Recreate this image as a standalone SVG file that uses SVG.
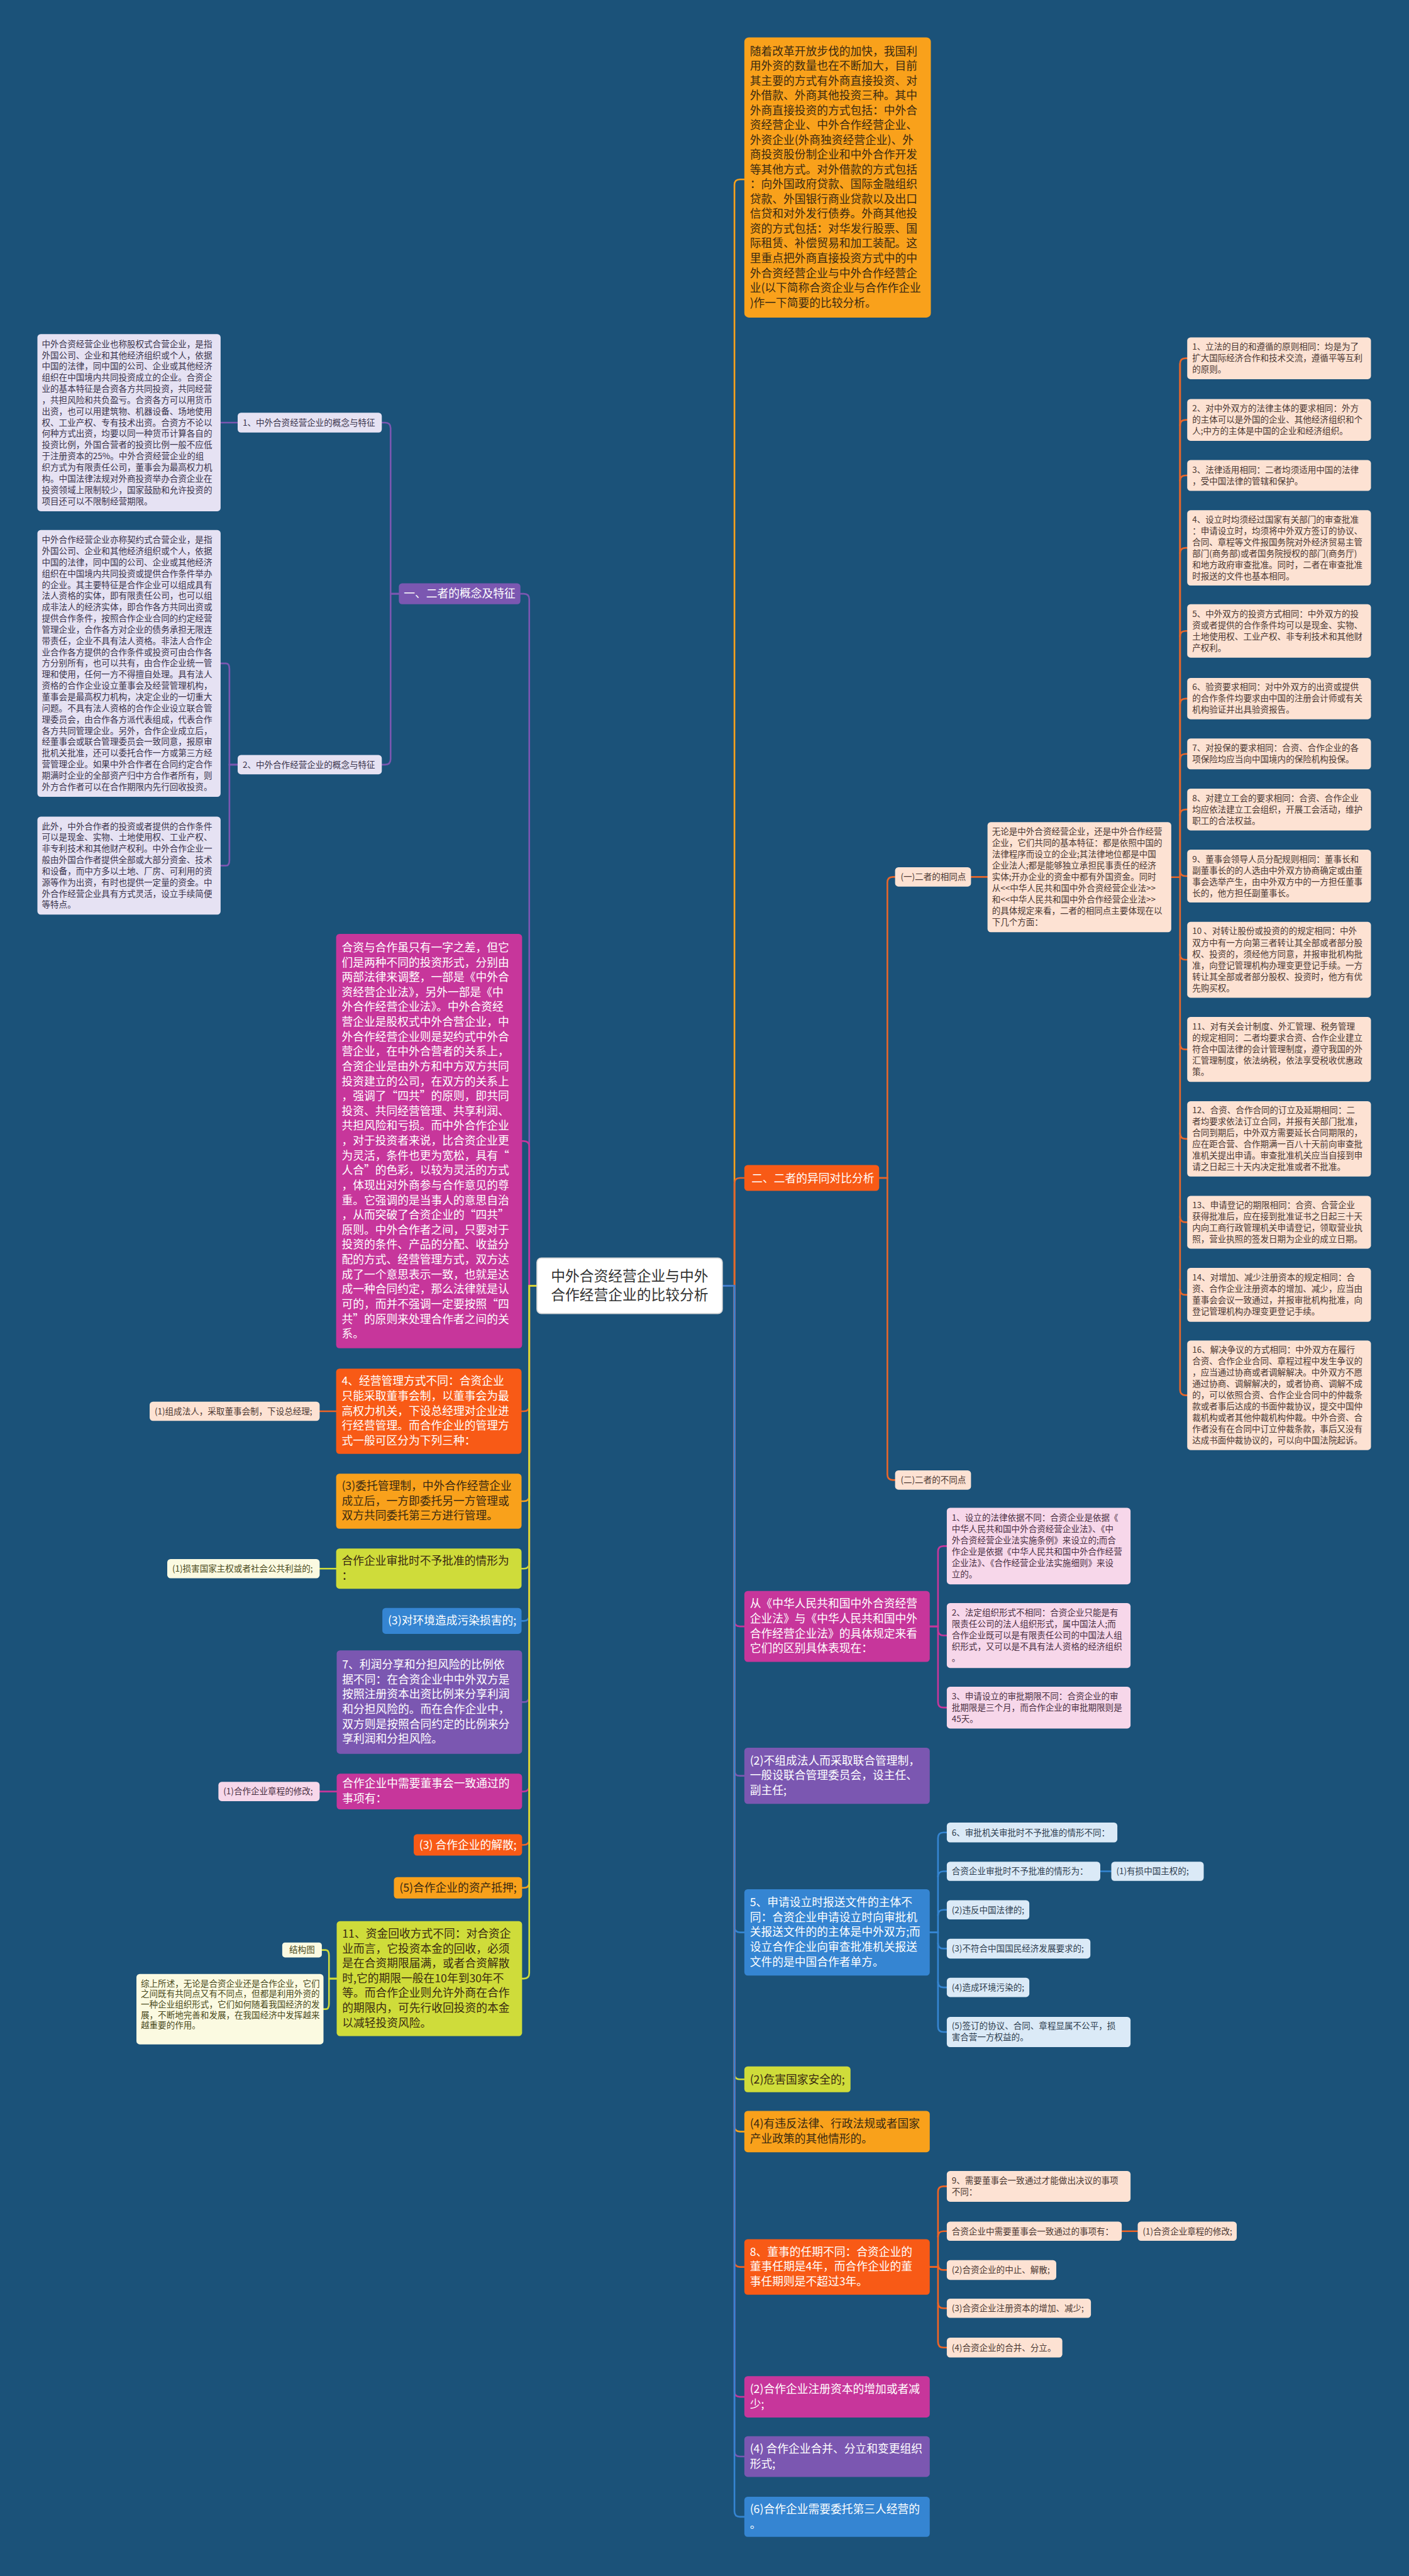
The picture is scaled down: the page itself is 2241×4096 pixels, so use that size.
<svg xmlns="http://www.w3.org/2000/svg" width="2241" height="4096" viewBox="0 0 2241 4096">
<style>
text{font-family:"Noto Sans CJK SC","Noto Sans",sans-serif}
.s{font-size:15.5px}
.l{font-size:20.3px}
.cw{fill:#ffffff}
.cd{fill:#3a2a12}
.cp{fill:#4b3832}
.cv{fill:#3a344c}
.ck{fill:#4a3042}
.cb{fill:#2e3e50}
.cy{fill:#4a4a20}
.fo{fill:#f9a11b}
.fr{fill:#f85a16}
.fm{fill:#c7369b}
.fu{fill:#7b57b1}
.fb{fill:#3585d2}
.fg{fill:#cfdc3a}
.fp{fill:#fde2d3}
.fk{fill:#f7d7ea}
.fl{fill:#dbeaf7}
.fv{fill:#e6e2f3}
.fy{fill:#fbfae1}
#conn path{fill:none;stroke-width:3;stroke-linecap:round}
.so{stroke:#f9a11b}.sr{stroke:#f06424}.sm{stroke:#c7369b}.su{stroke:#7b57b1}.sb{stroke:#3585d2}.sg{stroke:#cfdc3a}.sq{stroke:#e8662a}
</style>
<rect width="2241" height="4096" fill="#1b5279"/>
<g transform="scale(0.875)">
<g id="conn">
<path class="so" d="M1313 2336.5H1335V336Q1335 326 1345 326H1353"/>
<path class="sq" d="M1313 2336.5H1335V2150.5Q1335 2140.5 1345 2140.5H1353"/>
<path class="sm" d="M1313 2336.5H1335V2945.5Q1335 2955.5 1345 2955.5H1353"/>
<path class="su" d="M1313 2336.5H1335V3217Q1335 3227 1345 3227H1353"/>
<path class="sb" d="M1313 2336.5H1335V3501.5Q1335 3511.5 1345 3511.5H1353"/>
<path class="sg" d="M1313 2336.5H1335V3768.5Q1335 3778.5 1345 3778.5H1353"/>
<path class="so" d="M1313 2336.5H1335V3863.5Q1335 3873.5 1345 3873.5H1353"/>
<path class="sr" d="M1313 2336.5H1335V4109.5Q1335 4119.5 1345 4119.5H1353"/>
<path class="sm" d="M1313 2336.5H1335V4345.5Q1335 4355.5 1345 4355.5H1353"/>
<path class="su" d="M1313 2336.5H1335V4454Q1335 4464 1345 4464H1353"/>
<path class="sb" d="M1313 2336.5H1335V4563.5Q1335 4573.5 1345 4573.5H1353"/>
<path class="sq" d="M1598 2140.5H1613V1603.5Q1613 1593.5 1623 1593.5H1627"/>
<path class="sq" d="M1598 2140.5H1613V2679.5Q1613 2689.5 1623 2689.5H1627"/>
<path class="sq" d="M1765 1593.5H1795"/>
<path class="sq" d="M2129 1594H2145V661Q2145 651 2155 651H2158"/>
<path class="sq" d="M2145 661V2525.5Q2145 2535.5 2155 2535.5H2158"/>
<path class="sq" d="M2145 773Q2145 763 2155 763H2158"/>
<path class="sq" d="M2145 874Q2145 864 2155 864H2158"/>
<path class="sq" d="M2145 1005.5Q2145 995.5 2155 995.5H2158"/>
<path class="sq" d="M2145 1156.5Q2145 1146.5 2155 1146.5H2158"/>
<path class="sq" d="M2145 1279.5Q2145 1269.5 2155 1269.5H2158"/>
<path class="sq" d="M2145 1380Q2145 1370 2155 1370H2158"/>
<path class="sq" d="M2145 1481Q2145 1471 2155 1471H2158"/>
<path class="sq" d="M2145 1582Q2145 1592 2155 1592H2158"/>
<path class="sq" d="M2145 1734Q2145 1744 2155 1744H2158"/>
<path class="sq" d="M2145 1897Q2145 1907 2155 1907H2158"/>
<path class="sq" d="M2145 2059.5Q2145 2069.5 2155 2069.5H2158"/>
<path class="sq" d="M2145 2211Q2145 2221 2155 2221H2158"/>
<path class="sq" d="M2145 2343Q2145 2353 2155 2353H2158"/>
<path class="sm" d="M1690 2955.5H1705V2819.5Q1705 2809.5 1715 2809.5H1721"/>
<path class="sm" d="M1690 2955.5H1705V3093Q1705 3103 1715 3103H1721"/>
<path class="sm" d="M1705 2962Q1705 2972 1715 2972H1721"/>
<path class="sb" d="M1690 3511.5H1705V3340Q1705 3330 1715 3330H1721"/>
<path class="sb" d="M1690 3511.5H1705V3682.5Q1705 3692.5 1715 3692.5H1721"/>
<path class="sb" d="M1705 3410.5Q1705 3400.5 1715 3400.5H1721"/>
<path class="sb" d="M1705 3480.5Q1705 3470.5 1715 3470.5H1721"/>
<path class="sb" d="M1705 3531Q1705 3541 1715 3541H1721"/>
<path class="sb" d="M1705 3601.5Q1705 3611.5 1715 3611.5H1721"/>
<path class="sb" d="M2000 3400.5H2020"/>
<path class="sr" d="M1690 4119.5H1705V3983Q1705 3973 1715 3973H1721"/>
<path class="sr" d="M1690 4119.5H1705V4256Q1705 4266 1715 4266H1721"/>
<path class="sr" d="M1705 4064.5Q1705 4054.5 1715 4054.5H1721"/>
<path class="sr" d="M1705 4115Q1705 4125 1715 4125H1721"/>
<path class="sr" d="M1705 4184.5Q1705 4194.5 1715 4194.5H1721"/>
<path class="sr" d="M2039 4054.5H2068"/>
<path class="su" d="M976 2336.5H962V1089Q962 1079 952 1079H946"/>
<path class="sm" d="M976 2336.5H962V2083.5Q962 2073.5 952 2073.5H949"/>
<path class="sr" d="M976 2336.5H962V2554.5Q962 2564.5 952 2564.5H948"/>
<path class="so" d="M976 2336.5H962V2718Q962 2728 952 2728H948"/>
<path class="sg" d="M976 2336.5H962V2840.5Q962 2850.5 952 2850.5H948"/>
<path class="sb" d="M976 2336.5H962V2935.5Q962 2945.5 952 2945.5H948"/>
<path class="su" d="M976 2336.5H962V3083Q962 3093 952 3093H949"/>
<path class="sm" d="M976 2336.5H962V3245.5Q962 3255.5 952 3255.5H949"/>
<path class="sr" d="M976 2336.5H962V3342.5Q962 3352.5 952 3352.5H949"/>
<path class="so" d="M976 2336.5H962V3420.5Q962 3430.5 952 3430.5H949"/>
<path class="sg" d="M976 2336.5H962V3585.5Q962 3595.5 952 3595.5H949"/>
<path class="su" d="M725 1079H710V778Q710 768 700 768H694"/>
<path class="su" d="M725 1079H710V1379.5Q710 1389.5 700 1389.5H694"/>
<path class="su" d="M432 768H401"/>
<path class="su" d="M432 1389.5H417V1215.5Q417 1205.5 411 1205.5H401"/>
<path class="su" d="M432 1389.5H417V1563Q417 1573 411 1573H401"/>
<path class="sr" d="M611 2564.5H581"/>
<path class="sg" d="M611 2850.5H581"/>
<path class="sm" d="M612 3255.5H581"/>
<path class="sg" d="M612 3595.5H598V3553.5Q598 3543.5 592 3543.5H585"/>
<path class="sg" d="M612 3595.5H598V3641Q598 3651 592 3651H588"/>
</g>

<g id="center">
<rect x="976" y="2286" width="337" height="101" rx="8" fill="#ffffff" stroke="#d8d8d8" stroke-width="2"/>
<text x="1144.5" y="2328" font-size="26" fill="#333" text-anchor="middle"><tspan x="1144.5">中外合资经营企业与中外</tspan><tspan x="1144.5" dy="34">合作经营企业的比较分析</tspan></text>
</g>

<g id="n-intro">
<rect class="fo" x="1353" y="68" width="339" height="509" rx="8"/>
<text class="l cd" x="1363" y="100"><tspan x="1363">随着改革开放步伐的加快，我国利</tspan><tspan x="1363" dy="26.9">用外资的数量也在不断加大，目前</tspan><tspan x="1363" dy="26.9">其主要的方式有外商直接投资、对</tspan><tspan x="1363" dy="26.9">外借款、外商其他投资三种。其中</tspan><tspan x="1363" dy="26.9">外商直接投资的方式包括：中外合</tspan><tspan x="1363" dy="26.9">资经营企业、中外合作经营企业、</tspan><tspan x="1363" dy="26.9">外资企业(外商独资经营企业)、外</tspan><tspan x="1363" dy="26.9">商投资股份制企业和中外合作开发</tspan><tspan x="1363" dy="26.9">等其他方式。对外借款的方式包括</tspan><tspan x="1363" dy="26.9">：向外国政府贷款、国际金融组织</tspan><tspan x="1363" dy="26.9">贷款、外国银行商业贷款以及出口</tspan><tspan x="1363" dy="26.9">信贷和对外发行债券。外商其他投</tspan><tspan x="1363" dy="26.9">资的方式包括：对华发行股票、国</tspan><tspan x="1363" dy="26.9">际租赁、补偿贸易和加工装配。这</tspan><tspan x="1363" dy="26.9">里重点把外商直接投资方式中的中</tspan><tspan x="1363" dy="26.9">外合资经营企业与中外合作经营企</tspan><tspan x="1363" dy="26.9">业(以下简称合资企业与合作作企业</tspan><tspan x="1363" dy="26.9">)作一下简要的比较分析。</tspan></text>
</g>

<g id="n-2">
<rect class="fr" x="1353" y="2117" width="245" height="47" rx="6"/>
<text class="l cw" x="1366" y="2148">二、二者的异同对比分析</text>
</g>
<g id="n-same">
<rect class="fp" x="1627" y="1576" width="138" height="35" rx="6"/>
<text class="s cp" x="1637" y="1599">(一)二者的相同点</text>
</g>
<g id="n-diff">
<rect class="fp" x="1627" y="2672" width="138" height="35" rx="6"/>
<text class="s cp" x="1637" y="2695">(二)二者的不同点</text>
</g>
<g id="n-same-text">
<rect class="fp" x="1795" y="1494" width="334" height="200" rx="6"/>
<text class="s cp" x="1803" y="1516.8"><tspan x="1803">无论是中外合资经营企业，还是中外合作经营</tspan><tspan x="1803" dy="20.6">企业，它们共同的基本特征：都是依照中国的</tspan><tspan x="1803" dy="20.6">法律程序而设立的企业;其法律地位都是中国</tspan><tspan x="1803" dy="20.6">企业法人;都是能够独立承担民事责任的经济</tspan><tspan x="1803" dy="20.6">实体;开办企业的资金中都有外国资金。同时</tspan><tspan x="1803" dy="20.6">从&lt;&lt;中华人民共和国中外合资经营企业法&gt;&gt;</tspan><tspan x="1803" dy="20.6">和&lt;&lt;中华人民共和国中外合作经营企业法&gt;&gt;</tspan><tspan x="1803" dy="20.6">的具体规定来看，二者的相同点主要体现在以</tspan><tspan x="1803" dy="20.6">下几个方面：</tspan></text>
</g>

<g id="same-items">
<g id="s1"><rect class="fp" x="2158" y="613" width="334" height="76" rx="6"/>
<text class="s cp" x="2167" y="635.6"><tspan x="2167">1、立法的目的和遵循的原则相同：均是为了</tspan><tspan x="2167" dy="20.6">扩大国际经济合作和技术交流，遵循平等互利</tspan><tspan x="2167" dy="20.6">的原则。</tspan></text></g>
<g id="s2"><rect class="fp" x="2158" y="725" width="334" height="76" rx="6"/>
<text class="s cp" x="2167" y="747.6"><tspan x="2167">2、对中外双方的法律主体的要求相同：外方</tspan><tspan x="2167" dy="20.6">的主体可以是外国的企业、其他经济组织和个</tspan><tspan x="2167" dy="20.6">人;中方的主体是中国的企业和经济组织。</tspan></text></g>
<g id="s3"><rect class="fp" x="2158" y="836" width="334" height="56" rx="6"/>
<text class="s cp" x="2167" y="858.9"><tspan x="2167">3、法律适用相同：二者均须适用中国的法律</tspan><tspan x="2167" dy="20.6">，受中国法律的管辖和保护。</tspan></text></g>
<g id="s4"><rect class="fp" x="2158" y="927" width="334" height="137" rx="6"/>
<text class="s cp" x="2167" y="949.2"><tspan x="2167">4、设立时均须经过国家有关部门的审查批准</tspan><tspan x="2167" dy="20.6">：申请设立时，均须将中外双方签订的协议、</tspan><tspan x="2167" dy="20.6">合同、章程等文件报国务院对外经济贸易主管</tspan><tspan x="2167" dy="20.6">部门(商务部)或者国务院授权的部门(商务厅)</tspan><tspan x="2167" dy="20.6">和地方政府审查批准。同时，二者在审查批准</tspan><tspan x="2167" dy="20.6">时报送的文件也基本相同。</tspan></text></g>
<g id="s5"><rect class="fp" x="2158" y="1098" width="334" height="97" rx="6"/>
<text class="s cp" x="2167" y="1120.8"><tspan x="2167">5、中外双方的投资方式相同：中外双方的投</tspan><tspan x="2167" dy="20.6">资或者提供的合作条件均可以是现金、实物、</tspan><tspan x="2167" dy="20.6">土地使用权、工业产权、非专利技术和其他财</tspan><tspan x="2167" dy="20.6">产权利。</tspan></text></g>
<g id="s6"><rect class="fp" x="2158" y="1232" width="334" height="75" rx="6"/>
<text class="s cp" x="2167" y="1254"><tspan x="2167">6、验资要求相同：对中外双方的出资或提供</tspan><tspan x="2167" dy="20.6">的合作条件均要求由中国的注册会计师或有关</tspan><tspan x="2167" dy="20.6">机构验证并出具验资报告。</tspan></text></g>
<g id="s7"><rect class="fp" x="2158" y="1342" width="334" height="56" rx="6"/>
<text class="s cp" x="2167" y="1364.9"><tspan x="2167">7、对投保的要求相同：合资、合作企业的各</tspan><tspan x="2167" dy="20.6">项保险均应当向中国境内的保险机构投保。</tspan></text></g>
<g id="s8"><rect class="fp" x="2158" y="1433" width="334" height="76" rx="6"/>
<text class="s cp" x="2167" y="1455.6"><tspan x="2167">8、对建立工会的要求相同：合资、合作企业</tspan><tspan x="2167" dy="20.6">均应依法建立工会组织，开展工会活动，维护</tspan><tspan x="2167" dy="20.6">职工的合法权益。</tspan></text></g>
<g id="s9"><rect class="fp" x="2158" y="1544" width="334" height="96" rx="6"/>
<text class="s cp" x="2167" y="1566.3"><tspan x="2167">9、董事会领导人员分配规则相同：董事长和</tspan><tspan x="2167" dy="20.6">副董事长的的人选由中外双方协商确定或由董</tspan><tspan x="2167" dy="20.6">事会选举产生，由中外双方中的一方担任董事</tspan><tspan x="2167" dy="20.6">长的，他方担任副董事长。</tspan></text></g>
<g id="s10"><rect class="fp" x="2158" y="1675" width="334" height="138" rx="6"/>
<text class="s cp" x="2167" y="1697.7"><tspan x="2167">10 、对转让股份或投资的的规定相同：中外</tspan><tspan x="2167" dy="20.6">双方中有一方向第三者转让其全部或者部分股</tspan><tspan x="2167" dy="20.6">权、投资的，须经他方同意，并报审批机构批</tspan><tspan x="2167" dy="20.6">准，向登记管理机构办理变更登记手续。一方</tspan><tspan x="2167" dy="20.6">转让其全部或者部分股权、投资时，他方有优</tspan><tspan x="2167" dy="20.6">先购买权。</tspan></text></g>
<g id="s11"><rect class="fp" x="2158" y="1848" width="334" height="118" rx="6"/>
<text class="s cp" x="2167" y="1871"><tspan x="2167">11、对有关会计制度、外汇管理、税务管理</tspan><tspan x="2167" dy="20.6">的规定相同：二者均要求合资、合作企业建立</tspan><tspan x="2167" dy="20.6">符合中国法律的会计管理制度，遵守我国的外</tspan><tspan x="2167" dy="20.6">汇管理制度，依法纳税，依法享受税收优惠政</tspan><tspan x="2167" dy="20.6">策。</tspan></text></g>
<g id="s12"><rect class="fp" x="2158" y="2001" width="334" height="137" rx="6"/>
<text class="s cp" x="2167" y="2023.2"><tspan x="2167">12、合资、合作合同的订立及延期相同：二</tspan><tspan x="2167" dy="20.6">者均要求依法订立合同，并报有关部门批准，</tspan><tspan x="2167" dy="20.6">合同到期后，中外双方需要延长合同期限的，</tspan><tspan x="2167" dy="20.6">应在距合营、合作期满一百八十天前向审查批</tspan><tspan x="2167" dy="20.6">准机关提出申请。审查批准机关应当自接到申</tspan><tspan x="2167" dy="20.6">请之日起三十天内决定批准或者不批准。</tspan></text></g>
<g id="s13"><rect class="fp" x="2158" y="2173" width="334" height="96" rx="6"/>
<text class="s cp" x="2167" y="2195.3"><tspan x="2167">13、申请登记的期限相同：合资、合营企业</tspan><tspan x="2167" dy="20.6">获得批准后，应在接到批准证书之日起三十天</tspan><tspan x="2167" dy="20.6">内向工商行政管理机关申请登记，领取营业执</tspan><tspan x="2167" dy="20.6">照，营业执照的签发日期为企业的成立日期。</tspan></text></g>
<g id="s14"><rect class="fp" x="2158" y="2304" width="334" height="98" rx="6"/>
<text class="s cp" x="2167" y="2327.3"><tspan x="2167">14、对增加、减少注册资本的规定相同：合</tspan><tspan x="2167" dy="20.6">资、合作企业注册资本的增加、减少，应当由</tspan><tspan x="2167" dy="20.6">董事会会议一致通过，并报审批机构批准，向</tspan><tspan x="2167" dy="20.6">登记管理机构办理变更登记手续。</tspan></text></g>
<g id="s16"><rect class="fp" x="2158" y="2436" width="334" height="199" rx="6"/>
<text class="s cp" x="2167" y="2458.3"><tspan x="2167">16、解决争议的方式相同：中外双方在履行</tspan><tspan x="2167" dy="20.6">合资、合作企业合同、章程过程中发生争议的</tspan><tspan x="2167" dy="20.6">，应当通过协商或者调解解决。中外双方不愿</tspan><tspan x="2167" dy="20.6">通过协商、调解解决的，或者协商、调解不成</tspan><tspan x="2167" dy="20.6">的，可以依照合资、合作企业合同中的仲裁条</tspan><tspan x="2167" dy="20.6">款或者事后达成的书面仲裁协议，提交中国仲</tspan><tspan x="2167" dy="20.6">裁机构或者其他仲裁机构仲裁。中外合资、合</tspan><tspan x="2167" dy="20.6">作者没有在合同中订立仲裁条款，事后又没有</tspan><tspan x="2167" dy="20.6">达成书面仲裁协议的，可以向中国法院起诉。</tspan></text></g>
</g>

<g id="n-law">
<rect class="fm" x="1353" y="2891" width="337" height="129" rx="6"/>
<text class="l cw" x="1363" y="2921.5"><tspan x="1363">从《中华人民共和国中外合资经营</tspan><tspan x="1363" dy="27">企业法》与《中华人民共和国中外</tspan><tspan x="1363" dy="27">合作经营企业法》的具体规定来看</tspan><tspan x="1363" dy="27">它们的区别具体表现在：</tspan></text>
</g>
<g id="law-items">
<g id="d1"><rect class="fk" x="1721" y="2740" width="334" height="139" rx="6"/>
<text class="s ck" x="1730" y="2763.2"><tspan x="1730">1、设立的法律依据不同：合资企业是依据《</tspan><tspan x="1730" dy="20.6">中华人民共和国中外合资经营企业法》、《中</tspan><tspan x="1730" dy="20.6">外合资经营企业法实施条例》来设立的;而合</tspan><tspan x="1730" dy="20.6">作企业是依据《中华人民共和国中外合作经营</tspan><tspan x="1730" dy="20.6">企业法》、《合作经营企业法实施细则》来设</tspan><tspan x="1730" dy="20.6">立的。</tspan></text></g>
<g id="d2"><rect class="fk" x="1721" y="2913" width="334" height="118" rx="6"/>
<text class="s ck" x="1730" y="2936"><tspan x="1730">2、法定组织形式不相同：合资企业只能是有</tspan><tspan x="1730" dy="20.6">限责任公司的法人组织形式，属中国法人;而</tspan><tspan x="1730" dy="20.6">合作企业既可以是有限责任公司的中国法人组</tspan><tspan x="1730" dy="20.6">织形式，又可以是不具有法人资格的经济组织</tspan><tspan x="1730" dy="20.6">。</tspan></text></g>
<g id="d3"><rect class="fk" x="1721" y="3065" width="334" height="76" rx="6"/>
<text class="s ck" x="1730" y="3087.6"><tspan x="1730">3、申请设立的审批期限不同：合资企业的审</tspan><tspan x="1730" dy="20.6">批期限是三个月，而合作企业的审批期限则是</tspan><tspan x="1730" dy="20.6">45天。</tspan></text></g>
</g>

<g id="n-joint">
<rect class="fu" x="1353" y="3176" width="337" height="102" rx="6"/>
<text class="l cw" x="1363" y="3206.5"><tspan x="1363">(2)不组成法人而采取联合管理制，</tspan><tspan x="1363" dy="27">一般设联合管理委员会，设主任、</tspan><tspan x="1363" dy="27">副主任;</tspan></text>
</g>

<g id="n-5">
<rect class="fb" x="1353" y="3433" width="337" height="157" rx="6"/>
<text class="l cw" x="1363" y="3464"><tspan x="1363">5、申请设立时报送文件的主体不</tspan><tspan x="1363" dy="27">同：合资企业申请设立时向审批机</tspan><tspan x="1363" dy="27">关报送文件的的主体是中外双方;而</tspan><tspan x="1363" dy="27">设立合作企业向审查批准机关报送</tspan><tspan x="1363" dy="27">文件的是中国合作者单方。</tspan></text>
</g>
<g id="n5-items">
<g id="b6"><rect class="fl" x="1721" y="3312" width="310" height="36" rx="6"/>
<text class="s cb" x="1730" y="3335.5">6、审批机关审批时不予批准的情形不同：</text></g>
<g id="b-jv"><rect class="fl" x="1721" y="3383" width="279" height="35" rx="6"/>
<text class="s cb" x="1730" y="3406">合资企业审批时不予批准的情形为：</text></g>
<g id="b-jv1"><rect class="fl" x="2020" y="3383" width="168" height="35" rx="6"/>
<text class="s cb" x="2029" y="3406">(1)有损中国主权的;</text></g>
<g id="b2"><rect class="fl" x="1721" y="3453" width="150" height="35" rx="6"/>
<text class="s cb" x="1730" y="3476">(2)违反中国法律的;</text></g>
<g id="b3"><rect class="fl" x="1721" y="3523" width="261" height="36" rx="6"/>
<text class="s cb" x="1730" y="3546.5">(3)不符合中国国民经济发展要求的;</text></g>
<g id="b4"><rect class="fl" x="1721" y="3594" width="150" height="35" rx="6"/>
<text class="s cb" x="1730" y="3617">(4)造成环境污染的;</text></g>
<g id="b5"><rect class="fl" x="1721" y="3665" width="334" height="55" rx="6"/>
<text class="s cb" x="1730" y="3687.4"><tspan x="1730">(5)签订的协议、合同、章程显属不公平，损</tspan><tspan x="1730" dy="20.6">害合营一方权益的。</tspan></text></g>
</g>

<g id="n-security">
<rect class="fg" x="1353" y="3755" width="193" height="47" rx="6"/>
<text class="l cd" x="1363" y="3786">(2)危害国家安全的;</text>
</g>
<g id="n-other">
<rect class="fo" x="1353" y="3836" width="337" height="75" rx="6"/>
<text class="l cd" x="1363" y="3866.5"><tspan x="1363">(4)有违反法律、行政法规或者国家</tspan><tspan x="1363" dy="27">产业政策的其他情形的。</tspan></text>
</g>
<g id="n-8">
<rect class="fr" x="1353" y="4069" width="337" height="101" rx="6"/>
<text class="l cw" x="1363" y="4099"><tspan x="1363">8、董事的任期不同：合资企业的</tspan><tspan x="1363" dy="27">董事任期是4年，而合作企业的董</tspan><tspan x="1363" dy="27">事任期则是不超过3年。</tspan></text>
</g>
<g id="n8-items">
<g id="e9"><rect class="fp" x="1721" y="3945" width="334" height="56" rx="6"/>
<text class="s cp" x="1730" y="3967.9"><tspan x="1730">9、需要董事会一致通过才能做出决议的事项</tspan><tspan x="1730" dy="20.6">不同：</tspan></text></g>
<g id="e-jv"><rect class="fp" x="1721" y="4037" width="318" height="35" rx="6"/>
<text class="s cp" x="1730" y="4060">合资企业中需要董事会一致通过的事项有：</text></g>
<g id="e-jv1"><rect class="fp" x="2068" y="4037" width="180" height="35" rx="6"/>
<text class="s cp" x="2077" y="4060">(1)合资企业章程的修改;</text></g>
<g id="e2"><rect class="fp" x="1721" y="4107" width="199" height="36" rx="6"/>
<text class="s cp" x="1730" y="4130.5">(2)合资企业的中止、解散;</text></g>
<g id="e3"><rect class="fp" x="1721" y="4177" width="262" height="35" rx="6"/>
<text class="s cp" x="1730" y="4200">(3)合资企业注册资本的增加、减少;</text></g>
<g id="e4"><rect class="fp" x="1721" y="4248" width="210" height="36" rx="6"/>
<text class="s cp" x="1730" y="4271.5">(4)合资企业的合并、分立。</text></g>
</g>
<g id="n-capital">
<rect class="fm" x="1353" y="4318" width="337" height="75" rx="6"/>
<text class="l cw" x="1363" y="4348.5"><tspan x="1363">(2)合作企业注册资本的增加或者减</tspan><tspan x="1363" dy="27">少;</tspan></text>
</g>
<g id="n-merge">
<rect class="fu" x="1353" y="4427" width="337" height="74" rx="6"/>
<text class="l cw" x="1363" y="4457"><tspan x="1363">(4) 合作企业合并、分立和变更组织</tspan><tspan x="1363" dy="27">形式;</tspan></text>
</g>
<g id="n-entrust">
<rect class="fb" x="1353" y="4537" width="337" height="73" rx="6"/>
<text class="l cw" x="1363" y="4567"><tspan x="1363">(6)合作企业需要委托第三人经营的</tspan><tspan x="1363" dy="27">。</tspan></text>
</g>

<g id="n-1">
<rect class="fu" x="725" y="1060" width="221" height="38" rx="6"/>
<text class="l cw" x="734" y="1086">一、二者的概念及特征</text>
</g>
<g id="n-1-1">
<rect class="fv" x="432" y="750" width="262" height="36" rx="6"/>
<text class="s cv" x="441" y="773.5">1、中外合资经营企业的概念与特征</text>
</g>
<g id="n-1-2">
<rect class="fv" x="432" y="1372" width="262" height="35" rx="6"/>
<text class="s cv" x="441" y="1395">2、中外合作经营企业的概念与特征</text>
</g>
<g id="n-1-1-t">
<rect class="fv" x="68" y="607" width="333" height="322" rx="6"/>
<text class="s cv" x="76" y="630.5"><tspan x="76">中外合资经营企业也称股权式合营企业，是指</tspan><tspan x="76" dy="20.4">外国公司、企业和其他经济组织或个人，依据</tspan><tspan x="76" dy="20.4">中国的法律，同中国的公司、企业或其他经济</tspan><tspan x="76" dy="20.4">组织在中国境内共同投资成立的企业。合资企</tspan><tspan x="76" dy="20.4">业的基本特征是合资各方共同投资，共同经营</tspan><tspan x="76" dy="20.4">，共担风险和共负盈亏。合资各方可以用货币</tspan><tspan x="76" dy="20.4">出资，也可以用建筑物、机器设备、场地使用</tspan><tspan x="76" dy="20.4">权、工业产权、专有技术出资。合资方不论以</tspan><tspan x="76" dy="20.4">何种方式出资，均要以同一种货币计算各自的</tspan><tspan x="76" dy="20.4">投资比例，外国合营者的投资比例一般不应低</tspan><tspan x="76" dy="20.4">于注册资本的25%。中外合资经营企业的组</tspan><tspan x="76" dy="20.4">织方式为有限责任公司，董事会为最高权力机</tspan><tspan x="76" dy="20.4">构。中国法律法规对外商投资举办合资企业在</tspan><tspan x="76" dy="20.4">投资领域上限制较少，国家鼓励和允许投资的</tspan><tspan x="76" dy="20.4">项目还可以不限制经营期限。</tspan></text>
</g>
<g id="n-1-2-t1">
<rect class="fv" x="68" y="963" width="333" height="485" rx="6"/>
<text class="s cv" x="76" y="986.4"><tspan x="76">中外合作经营企业亦称契约式合营企业，是指</tspan><tspan x="76" dy="20.4">外国公司、企业和其他经济组织或个人，依据</tspan><tspan x="76" dy="20.4">中国的法律，同中国的公司、企业或其他经济</tspan><tspan x="76" dy="20.4">组织在中国境内共同投资或提供合作条件举办</tspan><tspan x="76" dy="20.4">的企业。其主要特征是合作企业可以组成具有</tspan><tspan x="76" dy="20.4">法人资格的实体，即有限责任公司，也可以组</tspan><tspan x="76" dy="20.4">成非法人的经济实体，即合作各方共同出资或</tspan><tspan x="76" dy="20.4">提供合作条件，按照合作企业合同的约定经营</tspan><tspan x="76" dy="20.4">管理企业，合作各方对企业的债务承担无限连</tspan><tspan x="76" dy="20.4">带责任，企业不具有法人资格。非法人合作企</tspan><tspan x="76" dy="20.4">业合作各方提供的合作条件或投资可由合作各</tspan><tspan x="76" dy="20.4">方分别所有，也可以共有，由合作企业统一管</tspan><tspan x="76" dy="20.4">理和使用，任何一方不得擅自处理。具有法人</tspan><tspan x="76" dy="20.4">资格的合作企业设立董事会及经营管理机构，</tspan><tspan x="76" dy="20.4">董事会是最高权力机构，决定企业的一切重大</tspan><tspan x="76" dy="20.4">问题。不具有法人资格的合作企业设立联合管</tspan><tspan x="76" dy="20.4">理委员会，由合作各方派代表组成，代表合作</tspan><tspan x="76" dy="20.4">各方共同管理企业。另外，合作企业成立后，</tspan><tspan x="76" dy="20.4">经董事会或联合管理委员会一致同意，报原审</tspan><tspan x="76" dy="20.4">批机关批准，还可以委托合作一方或第三方经</tspan><tspan x="76" dy="20.4">营管理企业。如果中外合作者在合同约定合作</tspan><tspan x="76" dy="20.4">期满时企业的全部资产归中方合作者所有，则</tspan><tspan x="76" dy="20.4">外方合作者可以在合作期限内先行回收投资。</tspan></text>
</g>
<g id="n-1-2-t2">
<rect class="fv" x="68" y="1484" width="333" height="178" rx="6"/>
<text class="s cv" x="76" y="1506.9"><tspan x="76">此外，中外合作者的投资或者提供的合作条件</tspan><tspan x="76" dy="20.4">可以是现金、实物、土地使用权、工业产权、</tspan><tspan x="76" dy="20.4">非专利技术和其他财产权利。中外合作企业一</tspan><tspan x="76" dy="20.4">般由外国合作者提供全部或大部分资金、技术</tspan><tspan x="76" dy="20.4">和设备，而中方多以土地、厂房、可利用的资</tspan><tspan x="76" dy="20.4">源等作为出资，有时也提供一定量的资金。中</tspan><tspan x="76" dy="20.4">外合作经营企业具有方式灵活，设立手续简便</tspan><tspan x="76" dy="20.4">等特点。</tspan></text>
</g>

<g id="n-diff-text">
<rect class="fm" x="611" y="1697" width="338" height="753" rx="6"/>
<text class="l cw" x="621" y="1729"><tspan x="621">合资与合作虽只有一字之差，但它</tspan><tspan x="621" dy="27">们是两种不同的投资形式，分别由</tspan><tspan x="621" dy="27">两部法律来调整，一部是《中外合</tspan><tspan x="621" dy="27">资经营企业法》，另外一部是《中</tspan><tspan x="621" dy="27">外合作经营企业法》。中外合资经</tspan><tspan x="621" dy="27">营企业是股权式中外合营企业，中</tspan><tspan x="621" dy="27">外合作经营企业则是契约式中外合</tspan><tspan x="621" dy="27">营企业，在中外合营者的关系上，</tspan><tspan x="621" dy="27">合资企业是由外方和中方双方共同</tspan><tspan x="621" dy="27">投资建立的公司，在双方的关系上</tspan><tspan x="621" dy="27">，强调了“四共”的原则，即共同</tspan><tspan x="621" dy="27">投资、共同经营管理、共享利润、</tspan><tspan x="621" dy="27">共担风险和亏损。而中外合作企业</tspan><tspan x="621" dy="27">，对于投资者来说，比合资企业更</tspan><tspan x="621" dy="27">为灵活，条件也更为宽松，具有“</tspan><tspan x="621" dy="27">人合”的色彩，以较为灵活的方式</tspan><tspan x="621" dy="27">，体现出对外商参与合作意见的尊</tspan><tspan x="621" dy="27">重。它强调的是当事人的意思自治</tspan><tspan x="621" dy="27">，从而突破了合资企业的“四共”</tspan><tspan x="621" dy="27">原则。中外合作者之间，只要对于</tspan><tspan x="621" dy="27">投资的条件、产品的分配、收益分</tspan><tspan x="621" dy="27">配的方式、经营管理方式，双方达</tspan><tspan x="621" dy="27">成了一个意思表示一致，也就是达</tspan><tspan x="621" dy="27">成一种合同约定，那么法律就是认</tspan><tspan x="621" dy="27">可的，而并不强调一定要按照“四</tspan><tspan x="621" dy="27">共”的原则来处理合作者之间的关</tspan><tspan x="621" dy="27">系。</tspan></text>
</g>
<g id="n-4">
<rect class="fr" x="611" y="2487" width="337" height="155" rx="6"/>
<text class="l cw" x="621" y="2517"><tspan x="621">4、经营管理方式不同：合资企业</tspan><tspan x="621" dy="27">只能采取董事会制，以董事会为最</tspan><tspan x="621" dy="27">高权力机关，下设总经理对企业进</tspan><tspan x="621" dy="27">行经营管理。而合作企业的管理方</tspan><tspan x="621" dy="27">式一般可区分为下列三种：</tspan></text>
</g>
<g id="n-4-1">
<rect class="fp" x="272" y="2547" width="309" height="35" rx="6"/>
<text class="s cp" x="281" y="2570">(1)组成法人，采取董事会制，下设总经理;</text>
</g>
<g id="n-entrust-mgmt">
<rect class="fo" x="611" y="2678" width="337" height="100" rx="6"/>
<text class="l cd" x="621" y="2707.5"><tspan x="621">(3)委托管理制，中外合作经营企业</tspan><tspan x="621" dy="27">成立后，一方即委托另一方管理或</tspan><tspan x="621" dy="27">双方共同委托第三方进行管理。</tspan></text>
</g>
<g id="n-coop-reject">
<rect class="fg" x="611" y="2814" width="337" height="73" rx="6"/>
<text class="l cd" x="621" y="2843.5"><tspan x="621">合作企业审批时不予批准的情形为</tspan><tspan x="621" dy="27">：</tspan></text>
</g>
<g id="n-coop-reject-1">
<rect class="fy" x="304" y="2833" width="277" height="35" rx="6"/>
<text class="s cy" x="313" y="2856">(1)损害国家主权或者社会公共利益的;</text>
</g>
<g id="n-env">
<rect class="fb" x="695" y="2922" width="253" height="47" rx="6"/>
<text class="l cw" x="705" y="2952.5">(3)对环境造成污染损害的;</text>
</g>
<g id="n-7">
<rect class="fu" x="612" y="2999" width="337" height="188" rx="6"/>
<text class="l cw" x="622" y="3032"><tspan x="622">7、利润分享和分担风险的比例依</tspan><tspan x="622" dy="27">据不同：在合资企业中中外双方是</tspan><tspan x="622" dy="27">按照注册资本出资比例来分享利润</tspan><tspan x="622" dy="27">和分担风险的。而在合作企业中，</tspan><tspan x="622" dy="27">双方则是按照合同约定的比例来分</tspan><tspan x="622" dy="27">享利润和分担风险。</tspan></text>
</g>
<g id="n-coop-board">
<rect class="fm" x="612" y="3223" width="337" height="65" rx="6"/>
<text class="l cw" x="622" y="3248.5"><tspan x="622">合作企业中需要董事会一致通过的</tspan><tspan x="622" dy="27">事项有：</tspan></text>
</g>
<g id="n-coop-board-1">
<rect class="fk" x="397" y="3238" width="184" height="35" rx="6"/>
<text class="s ck" x="406" y="3261">(1)合作企业章程的修改;</text>
</g>
<g id="n-dissolve">
<rect class="fr" x="752" y="3333" width="197" height="39" rx="6"/>
<text class="l cw" x="762" y="3359.5">(3) 合作企业的解散;</text>
</g>
<g id="n-mortgage">
<rect class="fo" x="716" y="3411" width="233" height="39" rx="6"/>
<text class="l cd" x="726" y="3437.5">(5)合作企业的资产抵押;</text>
</g>
<g id="n-11">
<rect class="fg" x="612" y="3491" width="337" height="209" rx="6"/>
<text class="l cd" x="622" y="3521"><tspan x="622">11、资金回收方式不同：对合资企</tspan><tspan x="622" dy="27">业而言，它投资本金的回收，必须</tspan><tspan x="622" dy="27">是在合资期限届满，或者合资解散</tspan><tspan x="622" dy="27">时,它的期限一般在10年到30年不</tspan><tspan x="622" dy="27">等。而合作企业则允许外商在合作</tspan><tspan x="622" dy="27">的期限内，可先行收回投资的本金</tspan><tspan x="622" dy="27">以减轻投资风险。</tspan></text>
</g>
<g id="n-11-1">
<rect class="fy" x="513" y="3530" width="72" height="27" rx="5"/>
<text class="s cy" x="549" y="3549" text-anchor="middle" font-size="14">结构图</text>
</g>
<g id="n-11-2">
<rect class="fy" x="248" y="3587" width="340" height="128" rx="6"/>
<text class="s cy" x="256" y="3610" font-size="14"><tspan x="256">综上所述，无论是合资企业还是合作企业，它们</tspan><tspan x="256" dy="19">之间既有共同点又有不同点，但都是利用外资的</tspan><tspan x="256" dy="19">一种企业组织形式，它们如何随着我国经济的发</tspan><tspan x="256" dy="19">展，不断地完善和发展，在我国经济中发挥越来</tspan><tspan x="256" dy="19">越重要的作用。</tspan></text>
</g>
</g>
</svg>
